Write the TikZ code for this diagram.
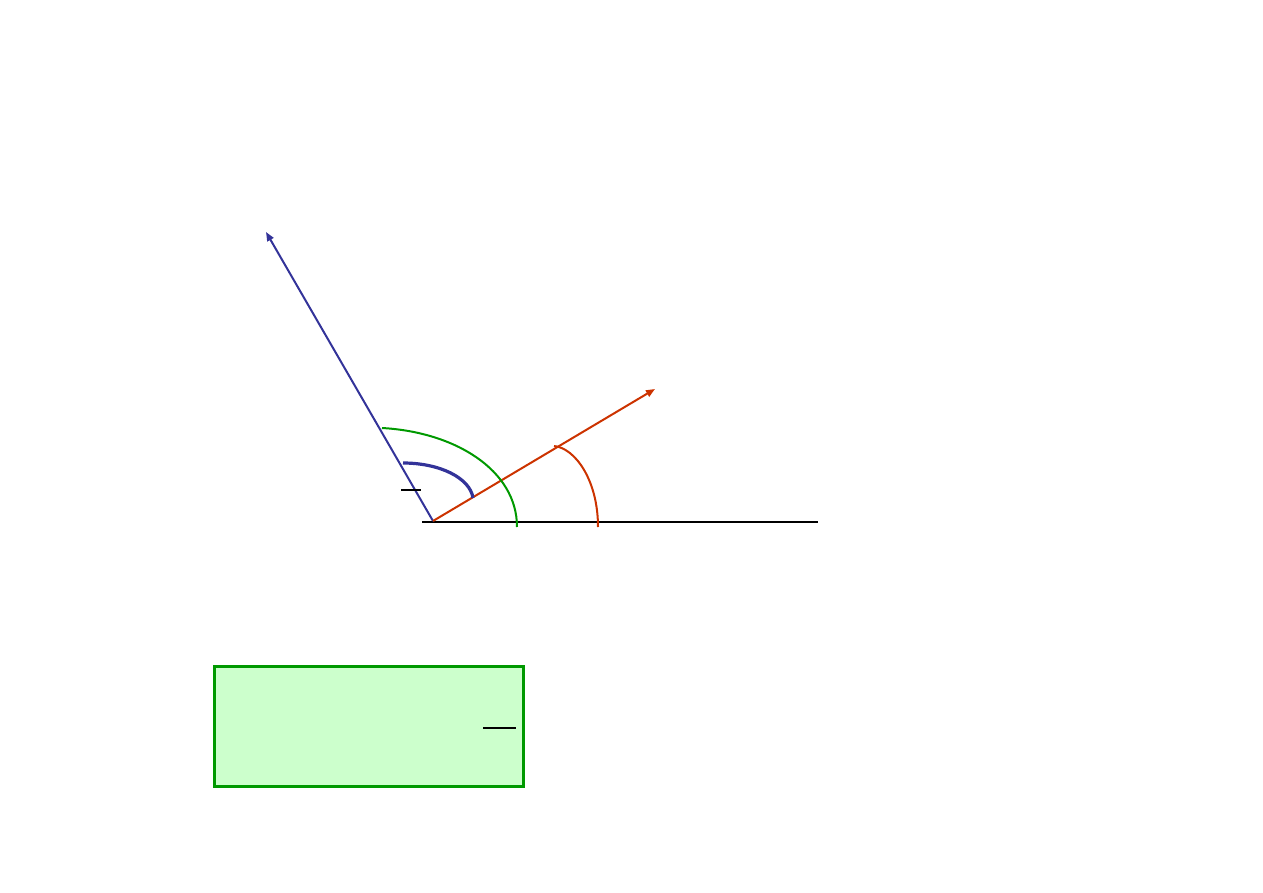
\documentclass[tikz,border=0pt]{standalone}
\usetikzlibrary{arrows.meta}
\definecolor{vblue}{HTML}{333399}
\definecolor{vred}{HTML}{CC3300}
\definecolor{vgreen}{HTML}{009900}
\definecolor{boxfill}{HTML}{CCFFCC}
\tikzset{
  vec/.style={line width=2bp,-{Triangle[length=9bp,width=7bp]}},
  arcline/.style={line width=2bp},
}
\begin{document}
\begin{tikzpicture}[x=1bp,y=-1bp]
\useasboundingbox (0,0) rectangle (1263,893);
% points
\coordinate (O) at (433,521);
\coordinate (B) at (266,232);
\coordinate (R) at (655,389);
\coordinate (HL) at (422,522);
\coordinate (HR) at (818,522);
% horizontal axis
\draw[line width=2bp,black] (HL) -- (HR);
% vectors
\draw[vec,vblue] (O) -- (B);
\draw[vec,vred] (O) -- (R);
% arcs
\coordinate (g1) at (382,428);
\coordinate (g2) at (517,527);
\draw[arcline,vgreen] (g1) .. controls (455,432) and (517,470) .. (g2);
\coordinate (b1) at (403,463);
\coordinate (b2) at (473,498);
\draw[line width=3.2bp,vblue] (b1) .. controls (440,463) and (470,478) .. (b2);
\coordinate (r1) at (554,446);
\coordinate (r2) at (598,527);
\draw[arcline,vred] (r1) .. controls (575,448) and (598,480) .. (r2);
% small bar
\coordinate (s1) at (401,490);
\coordinate (s2) at (421,490);
\draw[line width=1.2bp,black] (s1) -- (s2);
% box
\node[draw=vgreen,fill=boxfill,line width=3bp,minimum width=309bp,minimum height=120bp,inner sep=0pt,anchor=north west] (box) at (213,665) {};
\coordinate (f1) at (483,728);
\coordinate (f2) at (516,728);
\draw[line width=1.2bp,black] (f1) -- (f2);
\end{tikzpicture}
\end{document}
